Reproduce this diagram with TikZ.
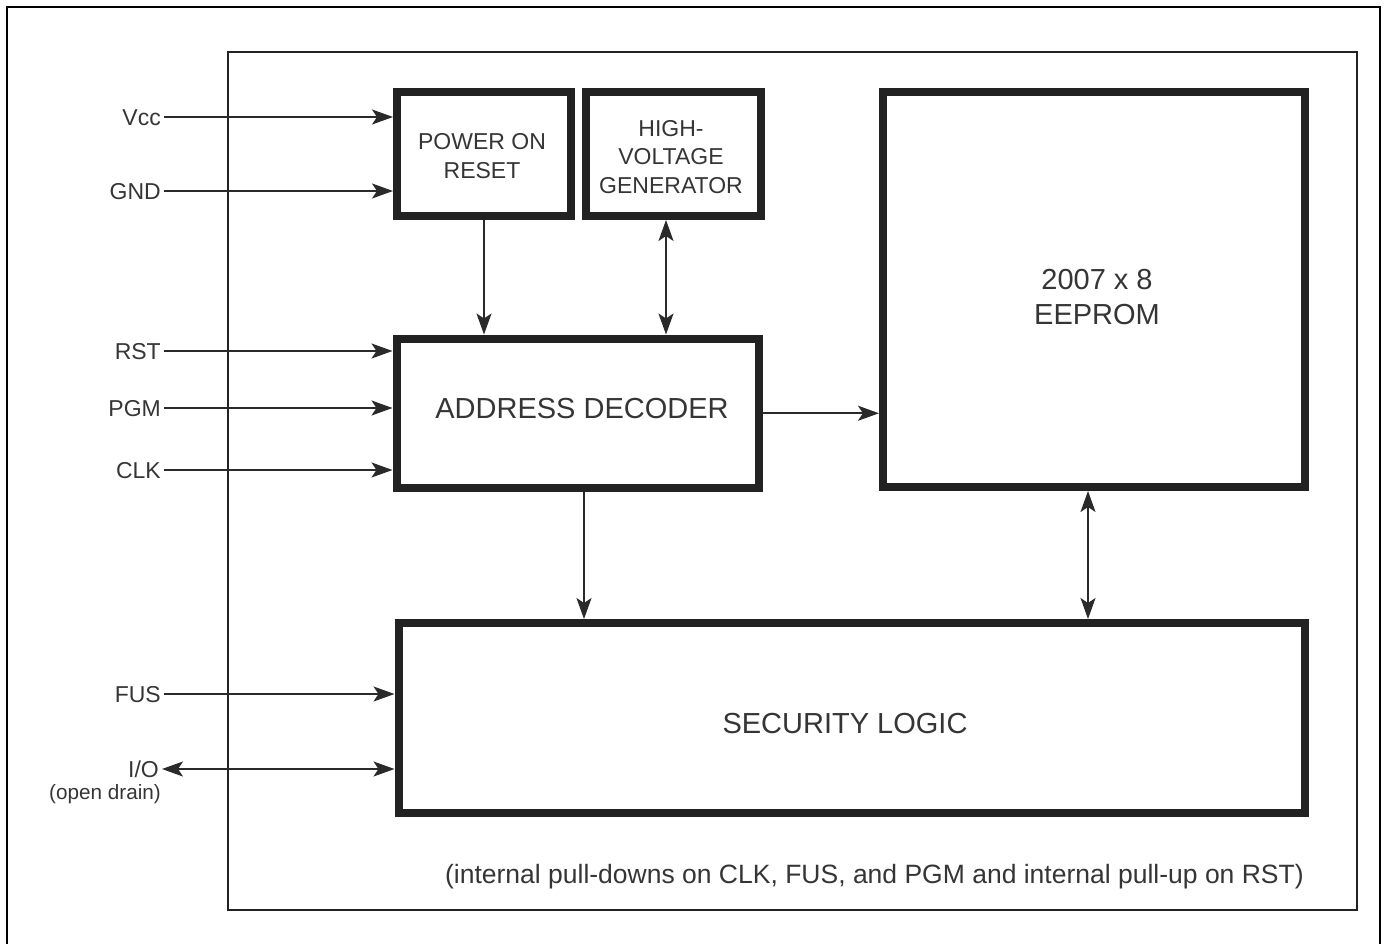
\documentclass[tikz,border=0pt]{standalone}
\usepackage{fontspec}
\setmainfont{Liberation Sans}
\usetikzlibrary{arrows.meta}
\definecolor{boxc}{HTML}{222222}
\definecolor{linec}{HTML}{2A2A2A}
\definecolor{txtc}{HTML}{353535}
\tikzset{
  blk/.style={draw=boxc, line width=8pt, inner sep=0pt},
  blktext/.style={inner sep=0pt, align=center, text=txtc},
  smallfont/.style={font=\fontsize{23}{28.5}\selectfont},
  bigfont/.style={font=\fontsize{29}{35}\selectfont},
  pin/.style={anchor=east, inner xsep=3pt, inner ysep=0pt, text height=16.5pt, text depth=0pt, text=txtc, font=\fontsize{23}{27}\selectfont},
  conn/.style={draw=linec, line width=2pt},
  tipend/.style={-{Stealth[length=21pt,width=15pt,inset=5pt]}},
  tipboth/.style={{Stealth[length=21pt,width=15pt,inset=5pt]}-{Stealth[length=21pt,width=15pt,inset=5pt]}},
}
\begin{document}
\begin{tikzpicture}[x=1pt,y=-1pt]
\useasboundingbox (0,0) rectangle (1389,944);
% outer page frame (bottom runs off the page)
\draw[black, line width=2.5pt] (7,960) -- (7,7) -- (1380,7) -- (1380,960);
% chip outline
\draw[boxc, line width=2.5pt] (228,52) rectangle (1357,910);
% blocks
\node[blk, minimum width=174pt, minimum height=124pt] (por) at (484,154) {};
\node[blk, minimum width=175pt, minimum height=124pt] (hvg) at (673.5,154) {};
\node[blk, minimum width=422pt, minimum height=394.5pt] (eep) at (1094,289.75) {};
\node[blk, minimum width=362pt, minimum height=149.5pt] (ad) at (577.5,413.25) {};
\node[blk, minimum width=906.5pt, minimum height=190pt] (sl) at (851.75,718) {};
% block texts
\node[blktext, smallfont] (port) at (482,156) {POWER ON\\RESET};
\node[blktext, smallfont] (hvgt) at (671,157) {HIGH-\\VOLTAGE\\GENERATOR};
\node[blktext, bigfont] (eept) at (1097,297) {2007 x 8\\EEPROM};
\node[blktext, bigfont] (adt) at (582,409) {ADDRESS DECODER};
\node[blktext, bigfont] (slt) at (845,724) {SECURITY LOGIC};
% pins
\node[pin] (vcc) at (164,117) {Vcc};
\node[pin] (gnd) at (164,191) {GND};
\node[pin] (rst) at (164,351) {RST};
\node[pin] (pgm) at (164,408) {PGM};
\node[pin] (clk) at (164,470) {CLK};
\node[pin] (fus) at (164,694) {FUS};
\node[pin] (io) at (162,769) {I/O};
\node[anchor=north east, inner sep=0pt, text=txtc, font=\fontsize{20.7}{24}\selectfont] (od) at (161,784) {(open drain)};
% pin connectors
\draw[conn,tipend] (vcc.east) -- (vcc.east -| por.west);
\draw[conn,tipend] (gnd.east) -- (gnd.east -| por.west);
\draw[conn,tipend] (rst.east) -- (rst.east -| ad.west);
\draw[conn,tipend] (pgm.east) -- (pgm.east -| ad.west);
\draw[conn,tipend] (clk.east) -- (clk.east -| ad.west);
\draw[conn,tipend] (fus.east) -- (fus.east -| sl.west);
\draw[conn,tipboth] (io.east) -- (io.east -| sl.west);
% internal connectors
\draw[conn,tipend] (por.south) -- (por.south |- ad.north);
\coordinate (xhv) at (666,0);
\draw[conn,tipboth] (hvg.south -| xhv) -- (ad.north -| xhv);
\draw[conn,tipend] (ad.east) -- (ad.east -| eep.west);
\coordinate (xad) at (584,0);
\draw[conn,tipend] (ad.south -| xad) -- (sl.north -| xad);
\coordinate (xee) at (1088,0);
\draw[conn,tipboth] (eep.south -| xee) -- (sl.north -| xee);
% note
\node[anchor=base east, inner sep=0pt, text=txtc, font=\fontsize{26.5}{30}\selectfont] (note) at (1304,883.5) {(internal pull-downs on CLK, FUS, and PGM and internal pull-up on RST)};
\end{tikzpicture}
\end{document}
